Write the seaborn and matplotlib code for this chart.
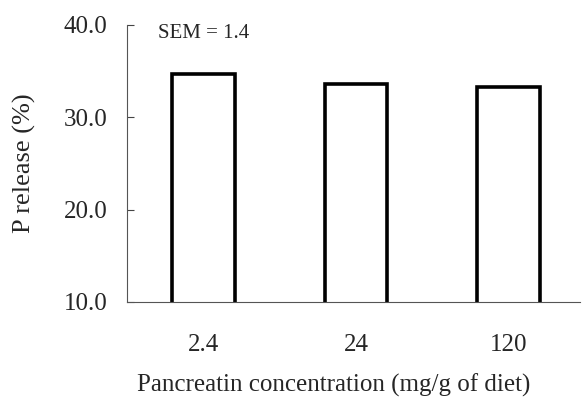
import matplotlib
matplotlib.use("Agg")
import matplotlib.pyplot as plt
import seaborn as sns
import pandas as pd

categories = ["2.4", "24", "120"]
p_release = [34.7, 33.6, 33.3]
yticks = [10.0, 20.0, 30.0, 40.0]
ytick_labels = ["10.0", "20.0", "30.0", "40.0"]

sns.set_style("white")
plt.rcParams['font.family'] = ['Liberation Serif', 'DejaVu Serif']

df = pd.DataFrame({"conc": categories, "P": p_release})

fig = plt.figure(figsize=(5.83, 4.08), dpi=100)
ax = fig.add_axes([0.218, 0.26, 0.777, 0.679])
sns.barplot(data=df, x="conc", y="P", ax=ax, color="white", edgecolor="black",
            linewidth=2.6, width=0.41, order=categories)
ax.set_ylim(10, 40)
ax.set_xlim(-0.5, 2.47)
ax.set_yticks(yticks)
ax.set_yticklabels(ytick_labels, fontsize=18)
ax.set_xticks(range(len(categories)))
ax.set_xticklabels(categories, fontsize=18)
ax.tick_params(axis="y", direction="in", length=5, width=0.8, color="#444444", pad=14, left=True)
ax.tick_params(axis="x", length=0, pad=23)
for s in ["top", "right"]:
    ax.spines[s].set_visible(False)
for s in ["left", "bottom"]:
    ax.spines[s].set_color("#555555")
    ax.spines[s].set_linewidth(0.8)
ax.set_xlabel("Pancreatin concentration (mg/g of diet)", fontsize=18)
ax.xaxis.set_label_coords(0.455, -0.26)
ax.set_ylabel("P release (%)", fontsize=19, labelpad=20)
ax.text(0.068, 1.005, "SEM = 1.4", transform=ax.transAxes, fontsize=15,
        va="top", ha="left")

fig.savefig("out.png", dpi=100)
